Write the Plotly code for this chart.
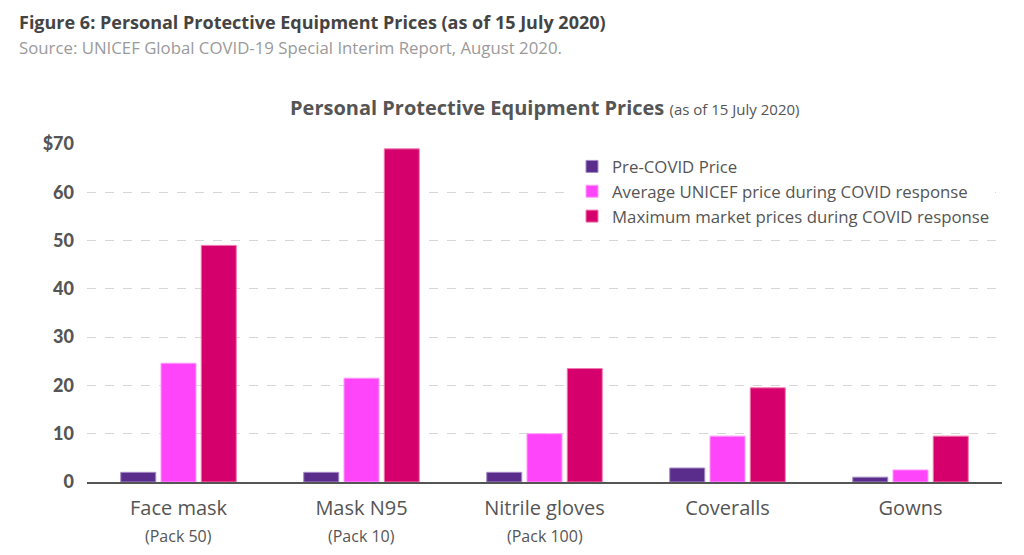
import plotly.graph_objects as go

categories = ["Face mask", "Mask N95", "Nitrile gloves", "Coveralls", "Gowns"]
sublabels = ["(Pack 50)", "(Pack 10)", "(Pack 100)", "", ""]
series_names = [
    "Pre-COVID Price",
    "Average UNICEF price during COVID response",
    "Maximum market prices during COVID response",
]
pre_covid = [2.0, 2.0, 2.0, 2.9, 1.0]
avg_unicef = [24.6, 21.5, 10.0, 9.5, 2.5]
max_market = [49.0, 69.0, 23.5, 19.5, 9.5]
tick_vals = [0, 10, 20, 30, 40, 50, 60, 70]
tick_text = ["0", "10", "20", "30", "40", "50", "60", "$70"]

colors = ["#5a2d8c", "#ff45fa", "#d6006c"]
edge_colors = ["#a58cc4", "#ff9cfb", "#f07aaf"]

FONT = "Open Sans"

# plot area in figure coordinates (page is offset by the 8px body margin)
L, R, T, B = 79, 30, 136, 81
PW = 1024 - L - R
PH = 555 - T - B

fig = go.Figure()
for i, (name, vals) in enumerate(zip(series_names, [pre_covid, avg_unicef, max_market])):
    fig.add_trace(go.Bar(
        x=categories, y=vals, name=name,
        marker=dict(color=colors[i], line=dict(color=edge_colors[i], width=1)),
        legendgroup=f"g{i}",
    ))

annotations = [
    dict(xref="paper", yref="paper", x=(9 - L) / PW, y=1 + (T - 14) / PH,
         xanchor="left", yanchor="middle", showarrow=False,
         text="<b>Figure 6: Personal Protective Equipment Prices (as of 15 July 2020)</b>",
         font=dict(size=18, color="#444444", family=FONT)),
    dict(xref="paper", yref="paper", x=(9 - L) / PW, y=1 + (T - 40) / PH,
         xanchor="left", yanchor="middle", showarrow=False,
         text="Source: UNICEF Global COVID-19 Special Interim Report, August 2020.",
         font=dict(size=16.8, color="#9a9a9a", family=FONT)),
    dict(xref="paper", yref="paper", x=(536.5 - L) / PW, y=1 + (T - 100) / PH,
         xanchor="center", yanchor="middle", showarrow=False,
         text="<b>Personal Protective Equipment Prices</b> <span style='font-size:15px'>(as of 15 July 2020)</span>",
         font=dict(size=20, color="#555555", family=FONT)),
]
for c, s in zip(categories, sublabels):
    if s:
        annotations.append(dict(
            xref="x", yref="paper", x=c, y=-54 / PH,
            xanchor="center", yanchor="middle", showarrow=False,
            text=s, font=dict(size=16, color="#555555", family=FONT),
        ))

fig.update_layout(
    width=1024, height=555,
    margin=dict(l=L, r=R, t=T, b=B, autoexpand=False),
    paper_bgcolor="white", plot_bgcolor="white",
    font=dict(family=FONT, color="#555555"),
    barmode="group", bargap=0.34, bargroupgap=0.13,
    showlegend=True,
    legend=dict(
        x=(564 - L) / PW, y=1 - 5 / PH, xanchor="left", yanchor="top",
        bgcolor="white", font=dict(size=16.8, color="#555555", family=FONT),
        tracegroupgap=0, itemwidth=30,
    ),
    xaxis=dict(
        tickmode="array", tickvals=categories, ticktext=categories,
        tickfont=dict(size=20, color="#555555", family=FONT),
        showline=True, linecolor="#555555", linewidth=2,
        ticks="", showgrid=False, ticklabelstandoff=7,
    ),
    yaxis=dict(
        range=[0, 70], tickmode="array", tickvals=tick_vals, ticktext=tick_text,
        tickfont=dict(size=18, color="#555555", family="Lato Black"),
        showgrid=True, gridcolor="#d6d6d6", griddash="dash", gridwidth=1,
        zeroline=False, ticks="", ticklabelstandoff=12,
    ),
    annotations=annotations,
)

fig.write_html("out.html")
